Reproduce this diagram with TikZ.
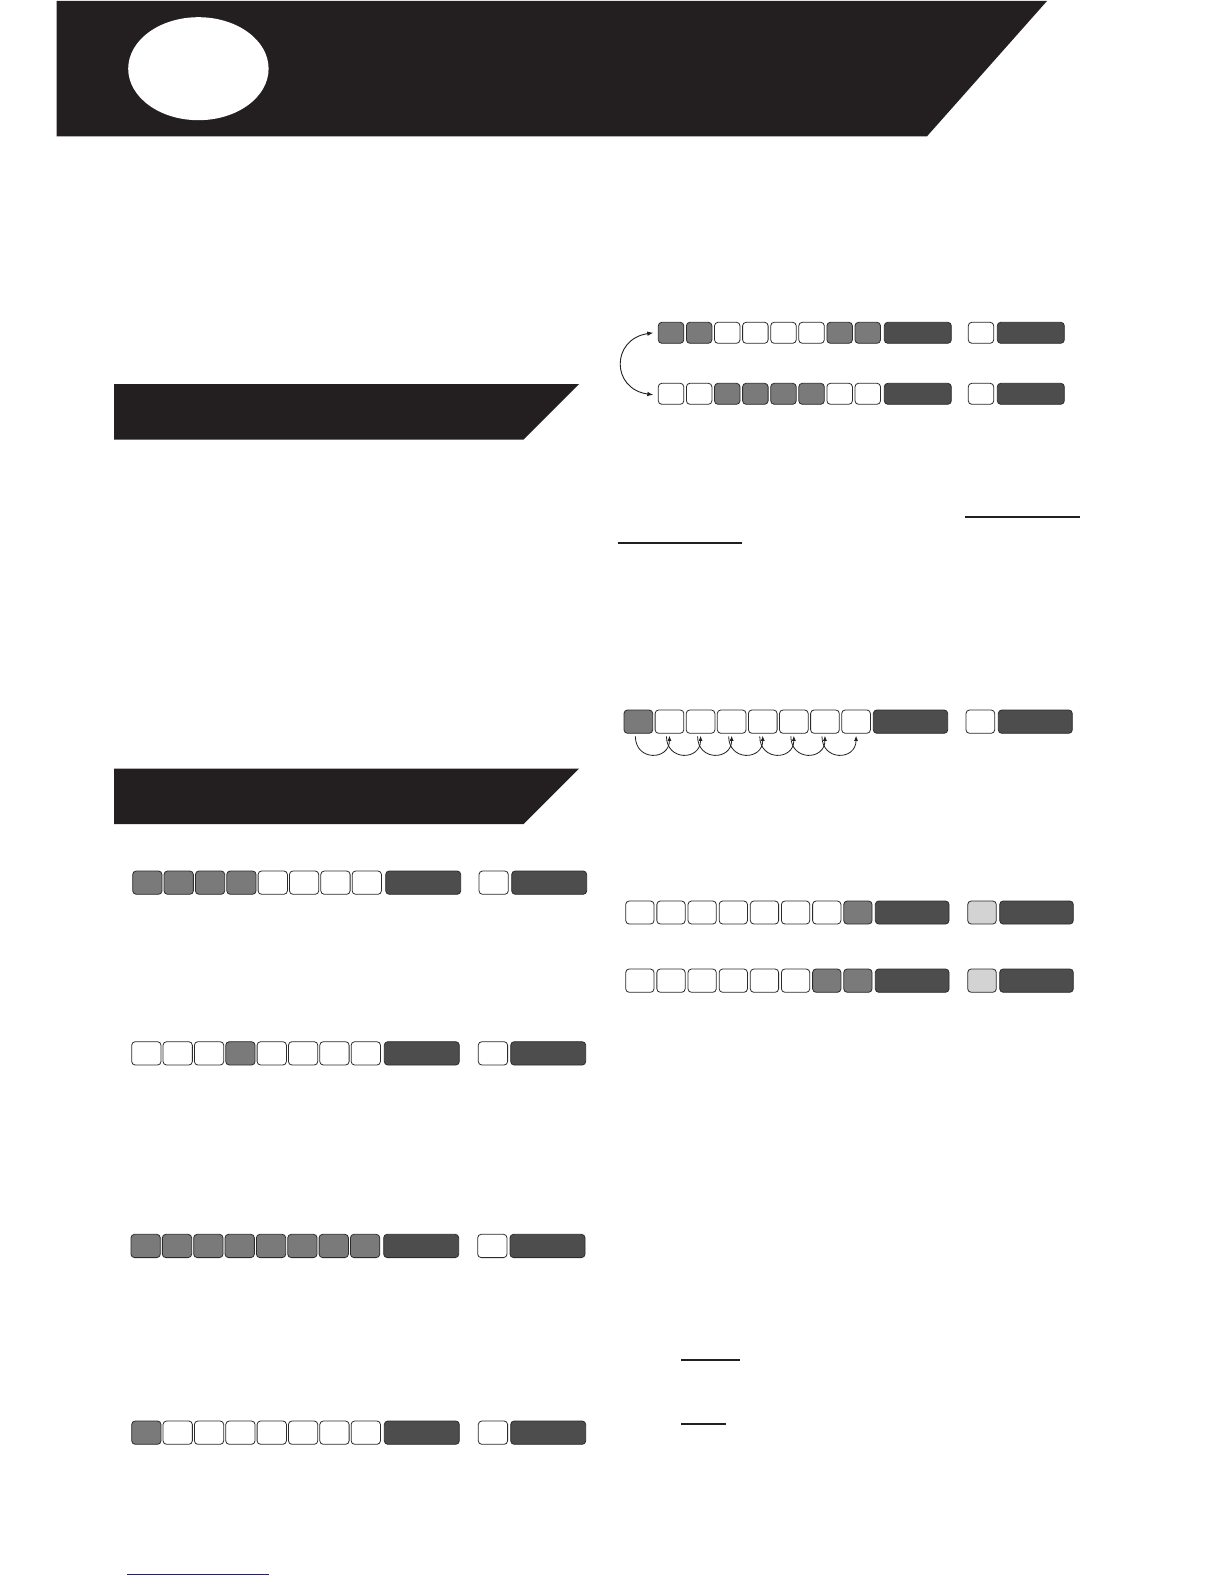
\documentclass[tikz,border=0pt]{standalone}
\usetikzlibrary{calc,arrows.meta}
\definecolor{ink}{HTML}{231F20}
\definecolor{cg}{HTML}{7A7A7A}
\definecolor{cd}{HTML}{4D4D4D}
\definecolor{cl}{HTML}{D3D3D3}
\definecolor{cw}{HTML}{FFFFFF}
\definecolor{edge}{HTML}{2B2B2B}
\definecolor{lnk}{HTML}{1F1A8F}
\tikzset{
  cell/.style={draw=edge, line width=0.8pt, rounded corners=3.5pt, inner sep=0pt, outer sep=0pt, anchor=north west},
  arcline/.style={draw=ink, line width=0.8pt, -{Latex[length=5pt,width=4pt]}},
  swapline/.style={draw=ink, line width=0.9pt, {Latex[length=6pt,width=4.5pt]}-{Latex[length=6pt,width=4.5pt]}},
  uline/.style={draw=ink, line width=2pt},
  blueline/.style={draw=lnk, line width=1.3pt}
}
% name, x0, ytop, pitch, cell width, height, colours
\newcommand\cellrow[7]{%
  \foreach \c [count=\i] in {#7} {
    \node[cell, fill=\c, minimum width=#5pt, minimum height=#6pt] (#1\i) at ({#2+#4*(\i-1)}, #3) {};
  }}
% name, x, ytop, width, height, colour
\newcommand\cellbox[6]{%
  \node[cell, fill=#6, minimum width=#4pt, minimum height=#5pt] (#1) at (#2,#3) {};}
\begin{document}
\begin{tikzpicture}[x=1pt,y=-1pt]
\useasboundingbox[fill=white] (0,0) rectangle (1224,1584);
% header
\fill[ink] (56.5,1) -- (1047,1) -- (927,136.3) -- (56.5,136.3) -- cycle;
\fill[white] (198.4,68.7) ellipse [x radius=70.2pt, y radius=51.5pt];
% section bars
\fill[ink] (114,384) -- (579,384) -- (523.5,439.5) -- (114,439.5) -- cycle;
\fill[ink] (114,768.7) -- (579,768.7) -- (523.5,824.2) -- (114,824.2) -- cycle;

% left column rows
\cellrow{La}{132.7}{871}{31.35}{29.3}{23.3}{cg,cg,cg,cg,cw,cw,cw,cw}
\cellbox{Law}{385.7}{871}{75}{23.3}{cd}
\cellbox{Las}{479}{871}{29.3}{23.3}{cw}
\cellbox{Lav}{511.7}{871}{75}{23.3}{cd}

\cellrow{Lb}{131.7}{1041.7}{31.35}{29.3}{23.3}{cw,cw,cw,cg,cw,cw,cw,cw}
\cellbox{Lbw}{384.3}{1041.7}{75}{23.3}{cd}
\cellbox{Lbs}{478.3}{1041.7}{29.3}{23.3}{cw}
\cellbox{Lbv}{510.7}{1041.7}{75}{23.3}{cd}

\cellrow{Lc}{131}{1234.3}{31.35}{29.3}{23.3}{cg,cg,cg,cg,cg,cg,cg,cg}
\cellbox{Lcw}{383.7}{1234.3}{75}{23.3}{cd}
\cellbox{Lcs}{477.7}{1234.3}{29.3}{23.3}{cw}
\cellbox{Lcv}{510}{1234.3}{75}{23.3}{cd}

\cellrow{Ld}{131.7}{1421}{31.35}{29.3}{23.3}{cg,cw,cw,cw,cw,cw,cw,cw}
\cellbox{Ldw}{384.3}{1421}{75}{23.3}{cd}
\cellbox{Lds}{478.3}{1421}{29.3}{23.3}{cw}
\cellbox{Ldv}{510.7}{1421}{75}{23.3}{cd}

% right column rows
\cellrow{Ra}{658.3}{322.3}{28.1}{25.5}{21}{cg,cg,cw,cw,cw,cw,cg,cg}
\cellbox{Raw}{884.3}{322.3}{67}{21}{cd}
\cellbox{Ras}{968.3}{322.3}{25.4}{21}{cw}
\cellbox{Rav}{997.3}{322.3}{67}{21}{cd}

\cellrow{Rb}{658.3}{383.3}{28.1}{25.5}{21}{cw,cw,cg,cg,cg,cg,cw,cw}
\cellbox{Rbw}{884.3}{383.3}{67}{21}{cd}
\cellbox{Rbs}{968.3}{383.3}{25.4}{21}{cw}
\cellbox{Rbv}{997.3}{383.3}{67}{21}{cd}

\draw[swapline] ($(Rb1.west)+(-5,1)$) .. controls (611,389) and (611,339) .. ($(Ra1.west)+(-5,0)$);

\cellrow{Rc}{624}{710}{31.1}{28.7}{23.3}{cg,cw,cw,cw,cw,cw,cw,cw}
\cellbox{Rcw}{873.3}{710}{74.4}{23.3}{cd}
\cellbox{Rcs}{966}{710}{28.7}{23.3}{cw}
\cellbox{Rcv}{998.3}{710}{74}{23.3}{cd}

\foreach \i [evaluate=\i as \j using int(\i+1)] in {1,...,7} {
  \draw[arcline] ($(Rc\i.south)+(-3,3)$) .. controls +(0,25) and +(0,25) .. ($(Rc\j.south)+(0,2.5)$);
}

\cellrow{Rd}{625.7}{901}{31.15}{28.3}{23}{cw,cw,cw,cw,cw,cw,cw,cg}
\cellbox{Rdw}{875.3}{901}{73.7}{23}{cd}
\cellbox{Rds}{967.7}{901}{28.6}{23}{cl}
\cellbox{Rdv}{999.7}{901}{73.6}{23}{cd}

\cellrow{Re}{625.7}{969}{31.15}{28.3}{23.3}{cw,cw,cw,cw,cw,cw,cg,cg}
\cellbox{Rew}{875.3}{969}{73.7}{23.3}{cd}
\cellbox{Res}{967.7}{969}{28.6}{23.3}{cl}
\cellbox{Rev}{999.7}{969}{73.6}{23.3}{cd}

% underlines
\draw[uline] (964.5,516.7) -- (1079.6,516.7);
\draw[uline] (618.3,543.3) -- (741.7,543.3);
\draw[uline] (681,1360) -- (740,1360);
\draw[uline] (681,1424) -- (726,1424);
\draw[blueline] (127.3,1574.7) -- (269,1574.7);
\end{tikzpicture}
\end{document}
